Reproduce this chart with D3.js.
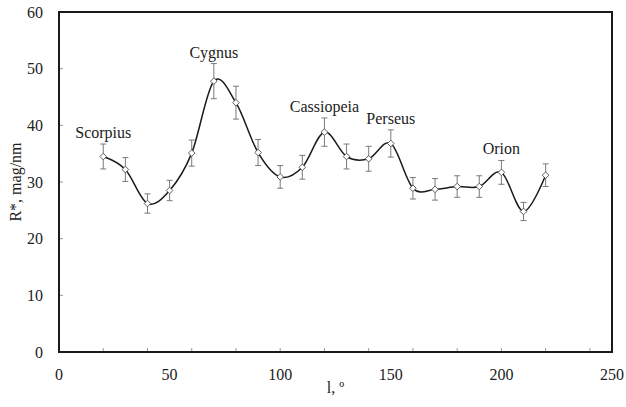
<!DOCTYPE html>
<html>
<head>
<meta charset="utf-8">
<script src="https://cdn.jsdelivr.net/npm/d3@7"></script>
</head>
<body style="margin:0;background:#fff">
<div id="chart"></div>
<script>
// galactic longitude, degrees
let longitudes = [20, 30, 40, 50, 60, 70, 80, 90, 100, 110, 120, 130, 140, 150, 160, 170, 180, 190, 200, 210, 220];
// R*, mag/nm
let rValues = [34.5, 32.2, 26.2, 28.5, 35.1, 47.8, 44.0, 35.2, 30.9, 32.6, 38.8, 34.5, 34.1, 36.8, 28.9, 28.7, 29.2, 29.2, 31.7, 24.8, 31.2];
let rErrors = [2.2, 2.1, 1.7, 1.8, 2.3, 3.1, 2.9, 2.3, 2.0, 2.1, 2.5, 2.2, 2.2, 2.4, 1.9, 1.9, 1.9, 1.9, 2.1, 1.6, 2.0];

// constellation names and the longitude they sit over
let labelNames = ["Scorpius", "Cygnus", "Cassiopeia", "Perseus", "Orion"];
let labelLongitudes = [20, 70, 120, 150, 200];

let xTicks = [0, 50, 100, 150, 200, 250];
let yTicks = [0, 10, 20, 30, 40, 50, 60];

const width = 626, height = 407;
const margin = { left: 59, right: 14, top: 12, bottom: 55 };
const serif = "Liberation Serif, Times New Roman, Tinos, serif";
const fontSize = 16;

let svg = d3.select("#chart").append("svg")
    .attr("width", width)
    .attr("height", height)
    .attr("font-family", serif);

let x = d3.scaleLinear().domain([0, 250]).range([margin.left, width - margin.right]);
let y = d3.scaleLinear().domain([0, 60]).range([height - margin.bottom, margin.top]);

let points = longitudes.map((l, i) => ({ l: l, r: rValues[i], err: rErrors[i] }));

// minor ticks inside the frame
svg.append("g")
    .selectAll("line")
    .data(d3.range(20, 250, 20))
    .enter().append("line")
    .attr("x1", d => x(d)).attr("x2", d => x(d))
    .attr("y1", y(0)).attr("y2", y(0) - 4)
    .attr("stroke", "#999").attr("stroke-width", 1);

svg.append("g")
    .selectAll("line")
    .data(yTicks.slice(1, -1))
    .enter().append("line")
    .attr("x1", x(0)).attr("x2", x(0) + 4)
    .attr("y1", d => y(d)).attr("y2", d => y(d))
    .attr("stroke", "#999").attr("stroke-width", 1);

// tick labels
svg.append("g")
    .selectAll("text")
    .data(xTicks)
    .enter().append("text")
    .attr("x", d => x(d))
    .attr("y", y(0) + 28)
    .attr("text-anchor", "middle")
    .attr("font-size", fontSize)
    .attr("font-family", serif)
    .attr("fill", "#222")
    .text(d => d);

svg.append("g")
    .selectAll("text")
    .data(yTicks)
    .enter().append("text")
    .attr("x", x(0) - 16)
    .attr("y", d => y(d))
    .attr("dy", "0.35em")
    .attr("text-anchor", "end")
    .attr("font-size", fontSize)
    .attr("font-family", serif)
    .attr("fill", "#222")
    .text(d => d);

// axis titles
svg.append("text")
    .attr("x", (x(0) + x(250)) / 2)
    .attr("y", 393)
    .attr("text-anchor", "middle")
    .attr("font-size", fontSize)
    .attr("font-family", serif)
    .attr("fill", "#222")
    .text("l, º");

svg.append("text")
    .attr("transform", "translate(21," + 182 + ") rotate(-90)")
    .attr("text-anchor", "middle")
    .attr("font-size", fontSize)
    .attr("font-family", serif)
    .attr("fill", "#222")
    .text("R*, mag/nm");

// error bars
let bars = svg.append("g")
    .attr("stroke", "#7a7a7a")
    .attr("stroke-width", 1);

bars.selectAll(".err")
    .data(points)
    .enter().append("path")
    .attr("class", "err")
    .attr("fill", "none")
    .attr("d", d => {
        let cx = x(d.l), top = y(d.r + d.err), bot = y(d.r - d.err);
        return "M" + cx + "," + top + "V" + bot +
            "M" + (cx - 3) + "," + top + "H" + (cx + 3) +
            "M" + (cx - 3) + "," + bot + "H" + (cx + 3);
    });

// smoothed line
let line = d3.line()
    .x(d => x(d.l))
    .y(d => y(d.r))
    .curve(d3.curveCardinal.tension(0));

svg.append("path")
    .datum(points)
    .attr("fill", "none")
    .attr("stroke", "#1a1a1a")
    .attr("stroke-width", 1.5)
    .attr("d", line);

// diamond markers
svg.append("g")
    .selectAll("path")
    .data(points)
    .enter().append("path")
    .attr("d", d3.symbol(d3.symbolSquare, 22))
    .attr("transform", d => "translate(" + x(d.l) + "," + y(d.r) + ") rotate(45)")
    .attr("fill", "#fff")
    .attr("stroke", "#555")
    .attr("stroke-width", 0.9);

// constellation labels
svg.append("g")
    .selectAll("text")
    .data(labelNames)
    .enter().append("text")
    .attr("x", (d, i) => x(labelLongitudes[i]))
    .attr("y", (d, i) => {
        let p = points[longitudes.indexOf(labelLongitudes[i])];
        return y(p.r + p.err) - 6;
    })
    .attr("text-anchor", "middle")
    .attr("font-size", fontSize)
    .attr("font-family", serif)
    .attr("fill", "#222")
    .text(d => d);

// frame
svg.append("rect")
    .attr("x", x(0))
    .attr("y", y(60))
    .attr("width", x(250) - x(0))
    .attr("height", y(0) - y(60))
    .attr("fill", "none")
    .attr("stroke", "#1a1a1a")
    .attr("stroke-width", 2);
</script>
</body>
</html>
